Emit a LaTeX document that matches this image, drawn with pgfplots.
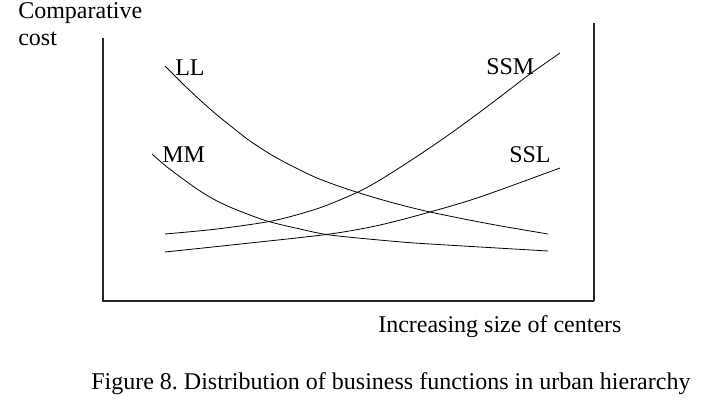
\documentclass[border=0pt]{standalone}
\usepackage{pgfplots}
\pgfplotsset{compat=1.18}
\usepackage{fontspec}
\setmainfont{Liberation Serif}
\frenchspacing
\begin{document}
\begin{tikzpicture}[x=1pt,y=1pt]
\begin{axis}[
  scale only axis, width=529.5pt, height=304.5pt,
  xmin=0, xmax=706, ymin=0, ymax=406, y dir=reverse,
  axis lines=none, clip=false,
  every axis plot/.append style={no markers},
]
\path (axis cs:0,0) rectangle (axis cs:706,406);
% frame lines
\addplot[line width=2.2pt, color=black!85] coordinates {(103,38) (103,301)};
\addplot[line width=2.2pt, color=black!85] coordinates {(102,301) (594,301)};
\addplot[line width=2.2pt, color=black!85] coordinates {(594,23) (594,301)};
% curves
\addplot[black, line width=0.6pt, smooth] coordinates {(165,66) (183,84) (200,100) (217,115) (237,131) (250,141) (270,154) (290,165) (317,178) (350,190) (390,202) (430,212) (490,224) (548,234)};
\addplot[black, line width=0.6pt, smooth] coordinates {(152,154) (167,167) (183,179) (200,191) (217,201) (237,210) (267,221) (300,229) (330,235) (390,241) (430,244) (548,251)};
\addplot[black, line width=0.6pt, smooth] coordinates {(165,234) (217,229) (272,221) (310,211) (330,204) (358,192) (380,180) (413,159) (447,136) (480,112) (513,87) (530,74) (560,53)};
\addplot[black, line width=0.6pt, smooth] coordinates {(165,252) (250,243) (330,234) (380,225) (430,212) (480,197) (560,168)};
% labels
\node[anchor=base west, font=\fontsize{18}{21}\selectfont, inner sep=0pt] at (axis cs:175,76) {LL};
\node[anchor=base west, font=\fontsize{18}{21}\selectfont, inner sep=0pt] at (axis cs:486,75) {SSM};
\node[anchor=base west, font=\fontsize{18}{21}\selectfont, inner sep=0pt] at (axis cs:162,162) {MM};
\node[anchor=base west, font=\fontsize{18}{21}\selectfont, inner sep=0pt] at (axis cs:509,162) {SSL};
\node[anchor=base west, font=\fontsize{18}{21}\selectfont, inner sep=0pt] at (axis cs:18,19) {Comparative};
\node[anchor=base west, font=\fontsize{18}{21}\selectfont, inner sep=0pt] at (axis cs:18,46) {cost};
\node[anchor=base west, font=\fontsize{18}{21}\selectfont, inner sep=0pt] at (axis cs:378,332) {Increasing size of centers};
\node[anchor=base west, font=\fontsize{18}{21}\selectfont, inner sep=0pt] at (axis cs:91,389) {Figure 8. Distribution of business functions in urban hierarchy};
\end{axis}
\end{tikzpicture}
\end{document}
